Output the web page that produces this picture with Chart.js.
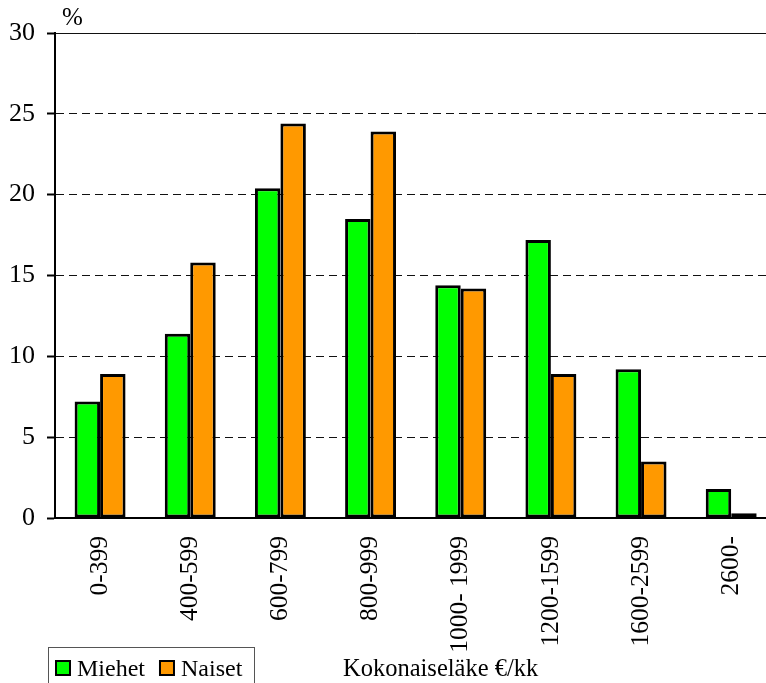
<!DOCTYPE html>
<html>
<head>
<meta charset="utf-8">
<script src="https://cdn.jsdelivr.net/npm/chart.js@4/dist/chart.umd.min.js"></script>
<style>
  html, body { margin: 0; padding: 0; background: #fff; overflow: hidden; }
  canvas { display: block; }
</style>
</head>
<body>
<canvas id="c" width="780" height="683"></canvas>
<script>
// Pension brackets (€/month) and share of recipients (%)
const categories = ["0-399", "400-599", "600-799", "800-999", "1000- 1999", "1200-1599", "1600-2599", "2600-"];
const miehet = [7.2, 11.4, 20.4, 18.5, 14.4, 17.2, 9.2, 1.8];
const naiset = [8.9, 15.8, 24.4, 23.9, 14.2, 8.9, 3.5, 0.3];
const seriesNames = ["Miehet", "Naiset"];
const yTicks = [0, 5, 10, 15, 20, 25, 30];
const unitLabel = "%";
const axisTitle = "Kokonaiseläke €/kk";

const FONT = "'Liberation Serif', 'Times New Roman', serif";
const GREEN = "#00ff00";
const ORANGE = "#ff9900";

// Unit sign above the value axis, the legend box and the axis caption
const extras = {
  id: "extras",
  afterDraw(chart) {
    const ctx = chart.ctx;
    const area = chart.chartArea;
    ctx.save();
    ctx.fillStyle = "#000";
    ctx.font = "25px " + FONT;
    ctx.textBaseline = "alphabetic";
    ctx.textAlign = "left";
    ctx.fillText(unitLabel, area.left + 7, area.top - 8);

    // legend box
    ctx.font = "24px " + FONT;
    const lx = 48, ly = 647, lw = 206, lh = 50;
    ctx.strokeStyle = "#555";
    ctx.lineWidth = 1;
    ctx.strokeRect(lx + 0.5, ly + 0.5, lw, lh);
    let x = lx + 8;
    const sq = 14;
    const base = 676;
    chart.data.datasets.forEach((ds) => {
      ctx.fillStyle = ds.backgroundColor;
      ctx.fillRect(x, 661, sq, sq);
      ctx.strokeStyle = "#000";
      ctx.lineWidth = 2;
      ctx.strokeRect(x, 661, sq, sq);
      x += sq + 7;
      ctx.fillStyle = "#000";
      ctx.fillText(ds.label, x, base);
      x += ctx.measureText(ds.label).width + 15;
    });

    ctx.font = "24.5px " + FONT;
    ctx.fillText(axisTitle, 343, base);
    ctx.restore();
  }
};

new Chart(document.getElementById("c"), {
  type: "bar",
  data: {
    labels: categories,
    datasets: [
      { label: seriesNames[0], data: miehet, backgroundColor: GREEN, borderColor: "#000", borderWidth: 3, borderSkipped: false },
      { label: seriesNames[1], data: naiset, backgroundColor: ORANGE, borderColor: "#000", borderWidth: 3, borderSkipped: false }
    ]
  },
  options: {
    responsive: false,
    animation: false,
    devicePixelRatio: 1,
    layout: { padding: { top: 33, right: 3, left: 0, bottom: 0 } },
    datasets: { bar: { categoryPercentage: 0.565, barPercentage: 1.0 } },
    plugins: {
      legend: { display: false },
      tooltip: { enabled: false }
    },
    scales: {
      x: {
        grid: { display: false, drawTicks: false },
        border: { display: true, color: "#000", width: 2 },
        ticks: {
          color: "#000",
          font: { family: FONT, size: 25.5 },
          minRotation: 90,
          maxRotation: 90,
          autoSkip: false,
          padding: 18
        },
        afterFit(scale) { scale.height = 165; }
      },
      y: {
        min: 0,
        max: 30,
        afterBuildTicks(scale) { scale.ticks = yTicks.map(v => ({ value: v })); },
        grid: {
          color: "#111",
          lineWidth: 1,
          drawTicks: true,
          tickLength: 8,
          tickColor: "#000",
          tickWidth: 2
        },
        border: {
          display: true,
          color: "#000",
          width: 2,
          dash: (ctx) => (ctx.type === "tick" && ctx.tick && ctx.tick.value !== 30 && ctx.tick.value !== 0) ? [8, 5] : []
        },
        ticks: {
          color: "#000",
          font: { family: FONT, size: 26 },
          padding: 12
        },
        afterFit(scale) { scale.width = 55; }
      }
    }
  },
  plugins: [extras]
});
</script>
</body>
</html>
